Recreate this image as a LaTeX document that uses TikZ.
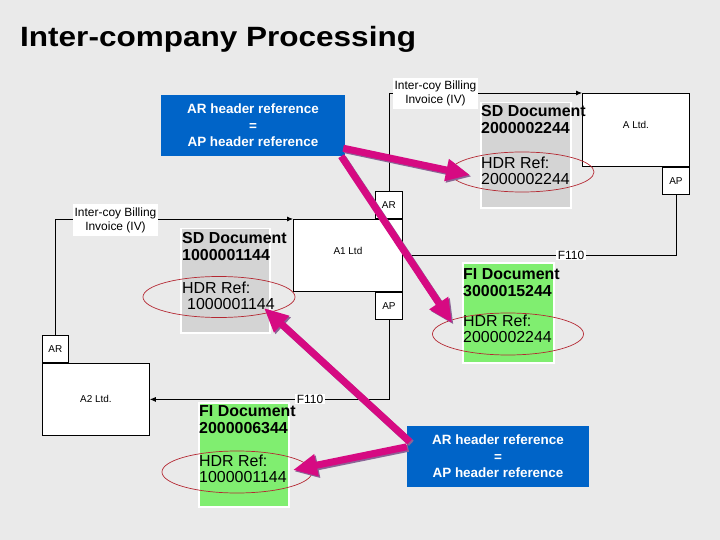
\documentclass[tikz,border=0pt]{standalone}
\usepackage{graphicx}
\usepackage{fontspec}
\setmainfont{Liberation Sans}
\usepackage{tikz}
\usetikzlibrary{arrows.meta}
\usetikzlibrary{shapes.geometric}
\usetikzlibrary{positioning}
\usepackage{xcolor}

\definecolor{bgray}{RGB}{234,234,234}
\definecolor{refblue}{RGB}{0,100,200}
\definecolor{sdgray}{RGB}{212,212,212}
\definecolor{figreen}{RGB}{128,238,112}
\definecolor{linkpink}{RGB}{214,10,130}
\definecolor{linkshade}{RGB}{140,100,150}
\definecolor{hdrred}{RGB}{180,40,50}

\tikzset{
  company/.style={draw, fill=white, line width=0.8bp, inner sep=0pt, anchor=north west, font=\fontsize{10}{12}\selectfont},
  port/.style={draw, fill=white, line width=0.8bp, inner sep=0pt, minimum width=27bp, minimum height=27bp, font=\fontsize{10}{12}\selectfont},
  flow/.style={line width=0.8bp, -{Latex[length=6bp,width=5bp]}},
  flowlabel/.style={fill=white, inner xsep=1.5bp, inner ysep=3bp, align=center, font=\fontsize{12}{14}\selectfont},
  panel/.style={draw=white, line width=1.5bp, inner sep=0pt, anchor=north west},
  doctext/.style={anchor=north west, inner sep=0pt, align=left, font=\bfseries\fontsize{16}{17}\selectfont},
  reftext/.style={anchor=north west, inner sep=0pt, align=left, font=\fontsize{16}{15.5}\selectfont},
  hdrring/.style={ellipse, draw=hdrred, line width=0.7bp, inner sep=0pt},
  rulebox/.style={fill=refblue, text=white, align=center, inner sep=0pt, font=\bfseries\fontsize{13.5}{16.5}\selectfont},
  link/.style={line width=7bp, -{Triangle[length=24bp,width=21bp]}}
}

\begin{document}
\begin{tikzpicture}[x=1bp,y=-1bp]
\fill[bgray] (0,0) rectangle (720,540);
\useasboundingbox (0,0) rectangle (720,540);

\node[anchor=base west, inner sep=0pt, font=\bfseries\fontsize{28}{30}\selectfont] (title) at (20,47) {\scalebox{1.13}[1]{Inter-company Processing}};

% companies and their AR / AP ports
\node[company, minimum width=107bp, minimum height=73bp, text depth=10bp] (altd) at (582,93) {A Ltd.};
\node[company, minimum width=109bp, minimum height=72bp, text depth=10bp] (a1) at (293,219) {A1 Ltd};
\node[company, minimum width=107bp, minimum height=72bp] (a2) at (42,363) {A2 Ltd.};
\node[port, anchor=north east] (altdap) at (altd.south east) {AP};
\node[port, anchor=south east] (a1ar) at (a1.north east) {AR};
\node[port, anchor=north east] (a1ap) at (a1.south east) {AP};
\node[port, anchor=south west, minimum width=26bp] (a2ar) at (a2.north west) {AR};

% document flows
\draw[flow] (a1ar.north) |- (altd.north west);
\draw[flow] (a2ar.north) |- (a1.north west);
\draw[flow] (altdap.south) |- (a1.east);
\draw[flow] (a1ap.south) |- (a2.east);
\node[flowlabel] (ivtop) at (435.5,93.5) {Inter-coy Billing\\Invoice (IV)};
\node[flowlabel] (ivleft) at (115.5,220) {Inter-coy Billing\\Invoice (IV)};
\node[flowlabel, inner ysep=1bp] (fitop) at (571,255) {F110};
\node[flowlabel, inner ysep=1bp] (filow) at (310,399) {F110};

% documents
\node[panel, fill=sdgray, minimum width=90bp, minimum height=105bp] (sdA) at (480,102) {};
\node[doctext, below right=3bp and 1bp of sdA.north west] (sdAdoc) {SD Document\\2000002244};
\node[reftext, below right=55bp and 1bp of sdA.north west] (sdAref) {HDR Ref:\\2000002244};

\node[panel, fill=sdgray, minimum width=89bp, minimum height=104bp] (sdB) at (180,228) {};
\node[doctext, below right=4bp and 2bp of sdB.north west] (sdBdoc) {SD Document\\1000001144};
\node[reftext, below right=54bp and 2bp of sdB.north west] (sdBref) {HDR Ref:\\\hspace*{5bp}1000001144};

\node[panel, fill=figreen, minimum width=91bp, minimum height=100bp] (fiA) at (462,262) {};
\node[doctext, below right=6bp and 1bp of fiA.north west] (fiAdoc) {FI Document\\3000015244};
\node[reftext, below right=53bp and 1bp of fiA.north west] (fiAref) {HDR Ref:\\2000002244};

\node[panel, fill=figreen, minimum width=90bp, minimum height=104bp] (fiB) at (198,402) {};
\node[doctext, below right=3bp and 1bp of fiB.north west] (fiBdoc) {FI Document\\2000006344};
\node[reftext, below right=53bp and 1bp of fiB.north west] (fiBref) {HDR Ref:\\1000001144};

\node[hdrring, minimum width=144bp, minimum height=40bp] (ringA) at (522,172) {};
\node[hdrring, minimum width=152bp, minimum height=41bp] (ringB) at (219,297) {};
\node[hdrring, minimum width=151bp, minimum height=42bp] (ringC) at (508,334) {};
\node[hdrring, minimum width=150bp, minimum height=42bp] (ringD) at (237,472) {};

% matching rule
\node[rulebox, minimum width=184bp, minimum height=61bp] (ruletop) at (253,125.5) {AR header reference\\=\\AP header reference};
\node[rulebox, minimum width=182bp, minimum height=61bp] (rulelow) at (498,456.5) {AR header reference\\=\\AP header reference};

\coordinate (fromA) at ([xshift=-2bp,yshift=8bp]ruletop.south east);
\coordinate (fromB) at ([xshift=-4bp]ruletop.south east);
\coordinate (fromC) at ([xshift=3bp,yshift=-16bp]rulelow.north west);
\coordinate (fromD) at ([yshift=-21bp]rulelow.north west);
\coordinate (tipA) at (470,175);
\coordinate (tipB) at (452,323);
\coordinate (tipC) at (264,308);
\coordinate (tipD) at (293,470);
\foreach \a/\b in {fromA/tipA, fromB/tipB, fromC/tipC, fromD/tipD}{
  \draw[link, linkshade] ([xshift=1.5bp,yshift=-1.5bp]\a) -- ([xshift=1.5bp,yshift=-1.5bp]\b);
  \draw[link, linkpink] (\a) -- (\b);
}
\end{tikzpicture}
\end{document}
